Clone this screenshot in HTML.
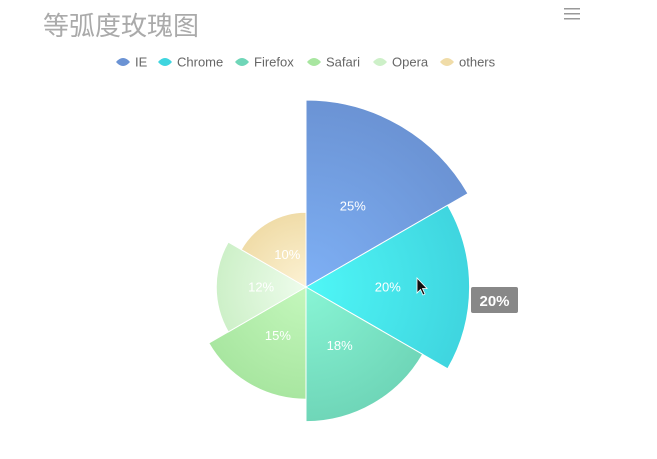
<!DOCTYPE html>
<html><head><meta charset="utf-8"><style>
body{margin:0;width:657px;height:454px;background:#fff;overflow:hidden;font-family:"Liberation Sans","Noto Sans CJK SC",sans-serif}
</style></head><body>
<svg width="657" height="454" id="chart">
<defs id="defs"></defs>
<text x="43" y="35" font-size="26" fill="#aaa" font-family="Liberation Sans, Noto Sans CJK SC, sans-serif">等弧度玫瑰图</text>
<g fill="#999">
<rect x="564" y="8" width="16" height="1.5"/><rect x="564" y="13" width="16" height="1.5"/><rect x="564" y="18" width="16" height="1.5"/>
</g>
<g id="legend"></g>
<g id="slices"></g>
<g id="labels"></g>
<g>
<rect x="471" y="287" width="47" height="26" rx="2" fill="#888"/>
<text x="494.5" y="306" font-size="15" font-weight="bold" fill="#fff" text-anchor="middle">20%</text>
</g>
<path d="M417,278 L417,293 L420.5,289.5 L423,295 L425,294 L422.5,288.5 L427,288.5 Z" fill="#111" stroke="#fff" stroke-width="0.8"/>
</svg>
<script>
const categories=["IE","Chrome","Firefox","Safari","Opera","others"];
const values=[25,20,18,15,12,10];
const colors=["#6b93d4","#3fd5df","#6fd6b8","#a8e6a0","#cdf0c8","#f0dca8"];
const innerColors=["#7eb0f5","#4ff7f7","#88f5d5","#c4f7bc","#eefcec","#fcf2d4"];
const legendIconX=[116,158,235,307,373,440];
const NS="http://www.w3.org/2000/svg";
const cx=306,cy=287,k=7.48,hoverIdx=1,hoverExtra=14;
function rScale(v){return v*k;}
function pt(r,a){return [cx+r*Math.sin(a),cy-r*Math.cos(a)];}
const defs=document.getElementById('defs'),sl=document.getElementById('slices'),lb=document.getElementById('labels'),lg=document.getElementById('legend');
const step=2*Math.PI/values.length;
values.forEach((v,i)=>{
  let r=rScale(v)+(i===hoverIdx?hoverExtra:0);
  const g=document.createElementNS(NS,'radialGradient');
  g.setAttribute('id','g'+i);g.setAttribute('gradientUnits','userSpaceOnUse');
  g.setAttribute('cx',cx);g.setAttribute('cy',cy);g.setAttribute('r',r);
  g.innerHTML='<stop offset="0" stop-color="'+innerColors[i]+'"/><stop offset="1" stop-color="'+colors[i]+'"/>';
  defs.appendChild(g);
  const a0=i*step,a1=(i+1)*step;
  const p0=pt(r,a0),p1=pt(r,a1);
  const p=document.createElementNS(NS,'path');
  p.setAttribute('d','M'+cx+','+cy+' L'+p0[0]+','+p0[1]+' A'+r+','+r+' 0 0 1 '+p1[0]+','+p1[1]+' Z');
  p.setAttribute('fill','url(#g'+i+')');p.setAttribute('stroke','#fff');p.setAttribute('stroke-width','1');
  
  
  sl.appendChild(p);
  const lp=pt(r/2,(a0+a1)/2);
  const t=document.createElementNS(NS,'text');
  t.setAttribute('x',lp[0]);t.setAttribute('y',lp[1]+4.5);t.setAttribute('text-anchor','middle');
  t.setAttribute('font-size','13');t.setAttribute('fill','#fff');t.textContent=v+'%';
  
  
  lb.appendChild(t);
  const e=document.createElementNS(NS,'g');
  
  
  const x=legendIconX[i];
  e.innerHTML='<path d="M'+x+',62 Q'+(x+7)+',54 '+(x+14)+',62 Q'+(x+7)+',70 '+x+',62Z" fill="'+colors[i]+'"/><text x="'+(x+19)+'" y="66.5" font-size="13" fill="#666">'+categories[i]+'</text>';
  lg.appendChild(e);
});
</script>
</body></html>
